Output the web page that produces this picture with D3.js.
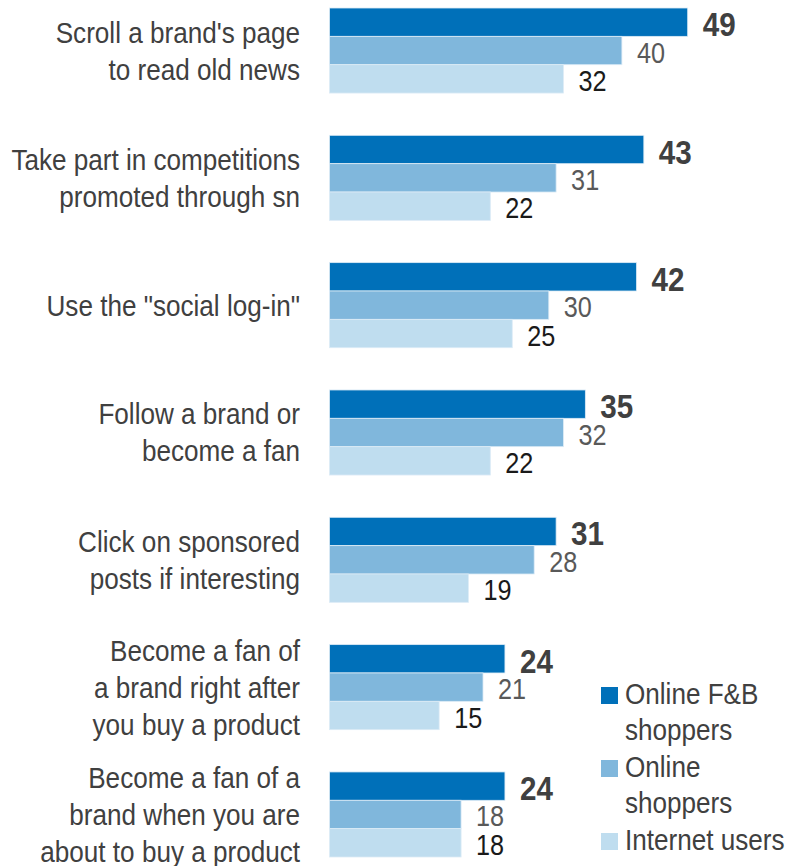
<!DOCTYPE html>
<html>
<head>
<meta charset="utf-8">
<script src="https://cdn.jsdelivr.net/npm/d3@7"></script>
<style>
  body { margin: 0; background: #fff; }
  svg { display: block; font-family: "Liberation Sans", Arial, sans-serif; }
</style>
</head>
<body>
<div id="chart"></div>
<script>
// Data
const categories = [
  ["Scroll a brand's page", "to read old news"],
  ["Take part in competitions", "promoted through sn"],
  ['Use the "social log-in"'],
  ["Follow a brand or", "become a fan"],
  ["Click on sponsored", "posts if interesting"],
  ["Become a fan of", "a brand right after", "you buy a product"],
  ["Become a fan of a", "brand when you are", "about to buy a product"]
];
const seriesNames = ["Online F&B shoppers", "Online shoppers", "Internet users"];
const fbShoppers = [49, 43, 42, 35, 31, 24, 24];
const onlineShoppers = [40, 31, 30, 32, 28, 21, 18];
const internetUsers = [32, 22, 25, 22, 19, 15, 18];
const legendLines = [["Online F&B", "shoppers"], ["Online", "shoppers"], ["Internet users"]];

const colors = ["#0070b9", "#80b7dc", "#bfddef"];
const labelColors = ["#404040", "#595959", "#1a1a1a"];

// narrow look: Liberation Sans squeezed horizontally
const NARROW = 0.87;

const width = 786, height = 866;
const svg = d3.select("#chart").append("svg")
  .attr("width", width)
  .attr("height", height);

const series = [fbShoppers, onlineShoppers, internetUsers];
const idx = d3.range(categories.length);

// Scales
const y0 = d3.scaleBand()
  .domain(idx)
  .range([8, 857])
  .paddingInner(0.332)
  .paddingOuter(0);

const y1 = d3.scaleBand()
  .domain(d3.range(series.length))
  .range([0, y0.bandwidth()]);

const x = d3.scaleLinear()
  .domain([0, 50])
  .range([329.5, 329.5 + 365.5]);

// Groups
const groups = svg.selectAll(".group")
  .data(idx)
  .enter()
  .append("g")
  .attr("class", "group")
  .attr("transform", i => `translate(0,${y0(i)})`);

groups.selectAll("rect")
  .data(i => series.map((s, k) => ({ k, v: s[i] })))
  .enter()
  .append("rect")
  .attr("x", x(0))
  .attr("y", d => y1(d.k))
  .attr("width", d => x(d.v) - x(0))
  .attr("height", y1.bandwidth())
  .attr("fill", d => colors[d.k])
  .attr("stroke", "#dcebf6")
  .attr("stroke-width", 0.8);

// Value labels
groups.selectAll(".val")
  .data(i => series.map((s, k) => ({ k, v: s[i] })))
  .enter()
  .append("g")
  .attr("class", "val")
  .attr("transform", d => `translate(${x(d.v) + 15},${y1(d.k) + y1.bandwidth() / 2 + (d.k === 0 ? 14 : 12)}) scale(${NARROW},1)`)
  .append("text")
  .attr("font-size", d => d.k === 0 ? "34px" : "29px")
  .attr("font-weight", d => d.k === 0 ? "bold" : "normal")
  .attr("fill", d => labelColors[d.k])
  .text(d => d.v);

// Category labels
const lineH = 37;
groups.append("g")
  .attr("transform", `translate(300,0) scale(${NARROW},1)`)
  .append("text")
  .attr("text-anchor", "end")
  .attr("font-size", "30px")
  .attr("fill", "#404040")
  .each(function(i) {
    const lines = categories[i];
    const mid = y0.bandwidth() / 2;
    const start = mid - (lines.length - 1) * lineH / 2;
    d3.select(this).selectAll("tspan")
      .data(lines)
      .enter()
      .append("tspan")
      .attr("x", 0)
      .attr("y", (l, j) => start + j * lineH + 10.5)
      .text(l => l);
  });

// Legend
const legendY = [687, 760, 833];
const legend = svg.selectAll(".legend")
  .data(seriesNames)
  .enter()
  .append("g")
  .attr("class", "legend")
  .attr("transform", (d, k) => `translate(601,${legendY[k]})`);

legend.append("rect")
  .attr("width", 17)
  .attr("height", 17)
  .attr("fill", (d, k) => colors[k]);

legend.append("g")
  .attr("transform", `translate(24,0) scale(${NARROW},1)`)
  .append("text")
  .attr("font-size", "30px")
  .attr("fill", "#404040")
  .each(function(d, k) {
    d3.select(this).selectAll("tspan")
      .data(legendLines[k])
      .enter()
      .append("tspan")
      .attr("x", 0)
      .attr("y", (l, j) => 17 + j * 36)
      .text(l => l);
  });
</script>
</body>
</html>
